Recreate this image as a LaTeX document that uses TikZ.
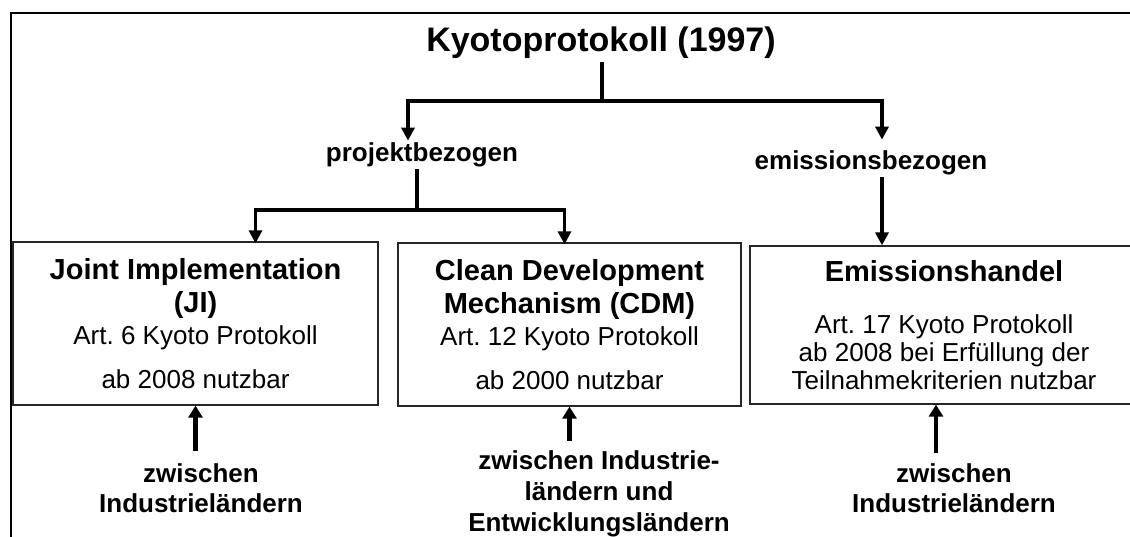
\documentclass[tikz,border=0pt]{standalone}
\usepackage{fontspec}
\setmainfont{Liberation Sans}
\usetikzlibrary{arrows.meta}
\frenchspacing
\tikzset{
  mbox/.style={draw=black!85, line width=1.3pt, align=center, inner sep=0pt,
    font=\fontsize{26}{28}\selectfont},
  link/.style={line width=3.2pt},
  arr/.style={link, -{Triangle[width=13pt,length=13pt]}},
  uparr/.style={line width=4.6pt, -{Triangle[width=14pt,length=12pt]}},
  lbl/.style={align=center, inner sep=2pt, font=\fontsize{26}{30}\selectfont\bfseries}
}
\newcommand{\hd}{\fontsize{29}{32}\selectfont\bfseries}
\begin{document}
\begin{tikzpicture}[x=1pt,y=-1pt]
  \useasboundingbox (0,0) rectangle (1130,537);
  % frame
  \draw[line width=2.6pt] (11,545) -- (11,13) -- (1140,13);

  \node[font=\fontsize{34}{37}\selectfont\bfseries] (kyoto) at (601,43) {Kyotoprotokoll (1997)};
  \node[lbl] (proj) at (422,155) {projektbezogen};
  \node[lbl] (emis) at (871,163) {emissionsbezogen};

  \node[mbox, minimum width=365pt, minimum height=163pt] (ji) at (195.5,323.5)
    {{\hd Joint Implementation}\\[5pt]{\hd (JI)}\\[4pt]Art. 6 Kyoto Protokoll\\[16pt]ab 2008 nutzbar};
  \node[mbox, minimum width=343pt, minimum height=163pt] (cdm) at (569.5,324.5)
    {{\hd Clean Development}\\[5pt]{\hd Mechanism (CDM)}\\[4pt]Art. 12 Kyoto Protokoll\\[16pt]ab 2000 nutzbar};
  \node[mbox, minimum width=388pt, minimum height=158pt] (eh) at (944,325)
    {{\hd Emissionshandel}\\[24pt]Art. 17 Kyoto Protokoll\\ab 2008 bei Erfüllung der\\Teilnahmekriterien nutzbar};

  \node[lbl] (lji) at (201,488) {zwischen\\Industrieländern};
  \node[lbl, font=\fontsize{26}{31}\selectfont\bfseries] (lcdm) at (599,494) {zwischen Industrie-\\ländern und\\Entwicklungsländern};
  \node[lbl] (leh) at (954,488) {zwischen\\Industrieländern};

  % tree
  \coordinate (top) at (602,101);
  \coordinate (mid) at (417,210);
  \draw[link] (kyoto.south -| top) -- (top);
  \draw[arr] (top) -| ([xshift=-14pt]proj.north);
  \draw[arr] (top) -| ([xshift=11pt,yshift=9pt]emis.north);
  \draw[link] (proj.south -| mid) -- (mid);
  \draw[arr] (mid) -| ([xshift=60pt,yshift=-2pt]ji.north);
  \draw[arr] (mid) -| ([xshift=-5pt,yshift=-2pt]cdm.north);
  \draw[arr] ([xshift=11pt]emis.south) -- ([xshift=-62pt]eh.north);

  % from below
  \draw[uparr] ([yshift=10pt]lji.north -| ji.south) -- (ji.south);
  \draw[uparr] ([yshift=8pt]lcdm.north -| cdm.south) -- (cdm.south);
  \draw[uparr] ([xshift=-8pt,yshift=8pt]leh.north -| eh.south) -- ([xshift=-8pt]eh.south);
\end{tikzpicture}
\end{document}
